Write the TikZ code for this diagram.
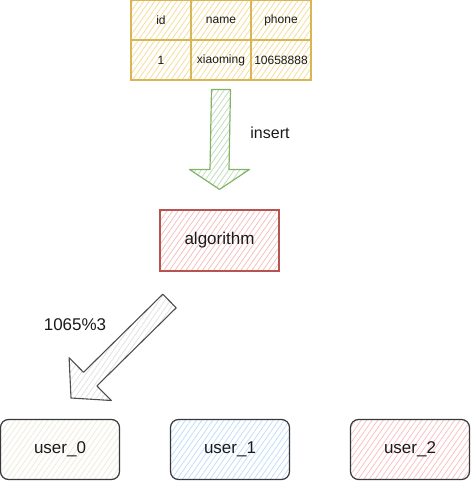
\documentclass[tikz,border=0pt]{standalone}
\usepackage{fontspec}
\setmainfont{Liberation Sans}
\usetikzlibrary{patterns.meta}
\definecolor{tabfill}{HTML}{F5DE9A}
\definecolor{tabline}{HTML}{D6B656}
\definecolor{grnfill}{HTML}{BFDDBD}
\definecolor{grnline}{HTML}{82B366}
\definecolor{redfill}{HTML}{F5C0BE}
\definecolor{redline}{HTML}{B85450}
\definecolor{ufillA}{HTML}{EEEBD9}
\definecolor{ufillB}{HTML}{C2DEFA}
\definecolor{ufillC}{HTML}{FAC2C2}
\definecolor{uline}{HTML}{36393D}
\definecolor{greyfill}{HTML}{E2E2E2}
\definecolor{greyline}{HTML}{4D4D4D}
\definecolor{txt}{HTML}{1A1A1A}
\begin{document}
\begin{tikzpicture}[x=1pt,y=-1pt,
  hatch/.style={pattern={Lines[angle=55,distance=4.5pt,line width=0.8pt]},pattern color=#1},
  cell/.style={draw=tabline, line width=1.2pt, hatch=tabfill, minimum width=60pt,
    minimum height=40pt, inner sep=0pt, font=\fontsize{12}{14}\selectfont, text=txt},
  algbox/.style={draw=redline, line width=1.2pt, hatch=redfill, minimum width=119pt,
    minimum height=61pt, inner sep=0pt, font=\fontsize{17}{20}\selectfont, text=txt},
  userbox/.style={draw=uline, line width=1.2pt, hatch=#1, rounded corners=8pt,
    minimum width=119pt, minimum height=60pt, inner sep=0pt,
    font=\fontsize{17}{20}\selectfont, text=txt},
  lbl/.style={font=\fontsize{17}{20}\selectfont, text=txt, inner sep=0pt},
  fatgreen/.style={draw=grnline, line width=1.2pt, hatch=grnfill, line join=round},
  fatgrey/.style={draw=greyline, line width=1.1pt, hatch=greyfill, line join=round}
]
\useasboundingbox (0,0) rectangle (471,481);
% table
\node[cell] (h1) at (161,20) {id};
\node[cell] (h2) at (221,20) {name};
\node[cell] (h3) at (281,20) {phone};
\node[cell] (r1) at (161,60) {1};
\node[cell] (r2) at (221,60) {xiaoming};
\node[cell] (r3) at (281,60) {10658888};
% algorithm
\node[algbox] (alg) at (219.5,240.5) {algorithm};
% users
\node[userbox=ufillA] (u0) at (60,449.5) {user\_0};
\node[userbox=ufillB] (u1) at (230,449.5) {user\_1};
\node[userbox=ufillC] (u2) at (410,449.5) {user\_2};
% green arrow (insert)
\coordinate (gtail) at ([yshift=-9pt]r2.south);
\coordinate (gtip) at ([yshift=20pt]alg.north);
\draw[fatgreen] ([xshift=-9.5pt]gtail) -- ([xshift=9.5pt]gtail)
  -- ([xshift=9.5pt,yshift=20pt]gtip) -- ([xshift=30pt,yshift=20pt]gtip)
  -- (gtip) -- ([xshift=-30pt,yshift=20pt]gtip)
  -- ([xshift=-9.5pt,yshift=20pt]gtip) -- cycle;
\node[lbl, font=\fontsize{16}{19}\selectfont] (ins) at (270,132.5) {insert};
% grey arrow (1065%3)
\coordinate (ktail) at (169.5,301);
\coordinate (ktip) at (71,398);
\draw[fatgrey] (162.8,294.2) -- (176.2,307.8) -- (96.9,385.9) -- (111.3,400.5)
  -- (ktip) -- (69.1,357.7) -- (83.5,372.3) -- cycle;
\node[lbl] (mod) at (75,325) {1065\%3};
\end{tikzpicture}
\end{document}
